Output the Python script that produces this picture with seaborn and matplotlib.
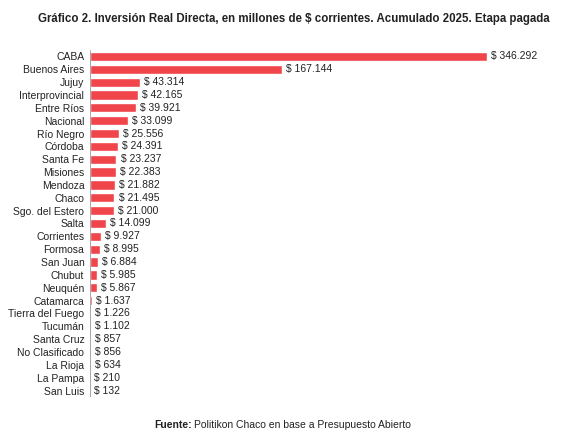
import matplotlib
matplotlib.use("Agg")
import matplotlib.pyplot as plt
import pandas as pd
import seaborn as sns

provincias = ["CABA", "Buenos Aires", "Jujuy", "Interprovincial", "Entre Ríos", "Nacional",
              "Río Negro", "Córdoba", "Santa Fe", "Misiones", "Mendoza", "Chaco",
              "Sgo. del Estero", "Salta", "Corrientes", "Formosa", "San Juan", "Chubut",
              "Neuquén", "Catamarca", "Tierra del Fuego", "Tucumán", "Santa Cruz",
              "No Clasificado", "La Rioja", "La Pampa", "San Luis"]
montos = [346292, 167144, 43314, 42165, 39921, 33099, 25556, 24391, 23237, 22383,
          21882, 21495, 21000, 14099, 9927, 8995, 6884, 5985, 5867, 1637, 1226,
          1102, 857, 856, 634, 210, 132]

df = pd.DataFrame({"prov": provincias, "monto": montos})

sns.set_theme(style="white")
plt.rcParams["font.family"] = ["Liberation Sans", "DejaVu Sans"]

fig = plt.figure(figsize=(5.87, 4.43), dpi=100)
ax = fig.add_axes([0.153, 0.104, 0.817, 0.783])
sns.barplot(data=df, x="monto", y="prov", orient="h", color="#f0464b",
            saturation=1, width=0.72, ax=ax)

for i, v in enumerate(montos):
    ax.text(v + 3500, i, "$ " + f"{v:,}".replace(",", "."), va="center",
            ha="left", fontsize=7.5, color="#222222")

ax.set_xlim(0, 417800)
ax.set_ylim(len(provincias) - 0.5, -0.5)
ax.set_xlabel("")
ax.set_ylabel("")
ax.set_xticks([])
ax.tick_params(axis="y", length=0, labelsize=7.5, pad=4, colors="#222222")
sns.despine(ax=ax, left=True, bottom=True)
ax.axvline(0, color="#999999", lw=0.6)

fig.text(0.5, 0.958, "Gráfico 2. Inversión Real Directa, en millones de $ corrientes. Acumulado 2025. Etapa pagada",
         ha="center", va="center", fontsize=8.3, fontweight="bold", color="#222222")
fig.text(0.263, 0.04, "Fuente:", ha="left", va="center", fontsize=7.5,
         fontweight="bold", color="#222222")
fig.text(0.33, 0.04, "Politikon Chaco en base a Presupuesto Abierto", ha="left",
         va="center", fontsize=7.5, color="#222222")

fig.savefig("out.png", dpi=100)
